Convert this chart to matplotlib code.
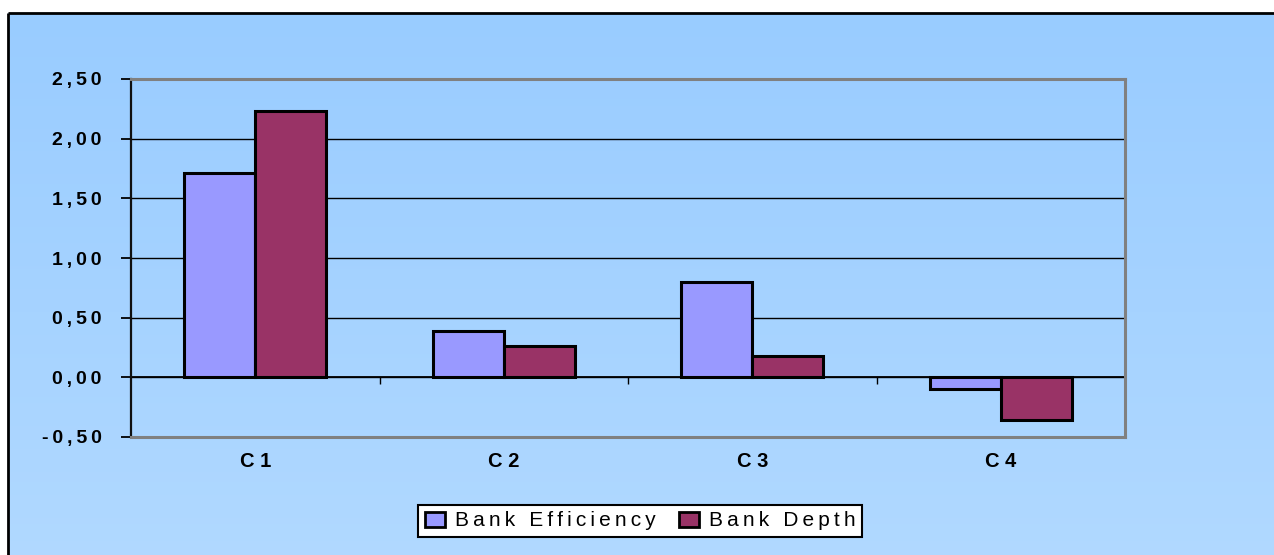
import numpy as np
import matplotlib
matplotlib.use("Agg")
import matplotlib.pyplot as plt
from matplotlib.colors import LinearSegmentedColormap

categories = ["C 1", "C 2", "C 3", "C 4"]
bank_efficiency = [1.71, 0.385, 0.80, -0.10]
bank_depth = [2.23, 0.26, 0.18, -0.36]
series_names = ["Bank Efficiency", "Bank Depth"]
yticks = [-0.5, 0.0, 0.5, 1.0, 1.5, 2.0, 2.5]

TS = "\u2009"  # thin space for letter spacing


def spaced(s):
    return TS.join(list(s))


def fmt(v):
    return f"{v:.2f}".replace(".", ",")


plt.rcParams["font.family"] = ["Liberation Sans", "DejaVu Sans"]

W, H = 1274, 555
fig = plt.figure(figsize=(W / 100, H / 100), dpi=100)
fig.patch.set_facecolor("white")

# background gradient (figure)
bg = fig.add_axes([0, 0, 1, 1], zorder=-10)
bg.set_axis_off()
cmap = LinearSegmentedColormap.from_list("g", ["#99CCFF", "#B3DAFF"])
grad = np.linspace(0, 1, 256).reshape(-1, 1)
top_frac = 1 - 13 / H
bg.imshow(grad, aspect="auto", cmap=cmap, extent=[8 / W, 1.2, -0.1, top_frac],
          origin="upper")
bg.set_xlim(0, 1)
bg.set_ylim(0, 1)
# frame lines
bg.plot([8 / W, 1], [top_frac, top_frac], color="black", lw=2, solid_capstyle="butt")
bg.plot([8 / W, 8 / W], [0, top_frac], color="black", lw=2, solid_capstyle="butt")

left, right = 131 / W, 1125 / W
bottom, top = 1 - 437 / H, 1 - 79 / H
ax = fig.add_axes([left, bottom, right - left, top - bottom])
ax.patch.set_alpha(0)

x = np.arange(len(categories))
bw = 0.285
ax.bar(x - bw / 2, bank_efficiency, bw, color="#9999FF", edgecolor="black",
       linewidth=2.2, label=spaced(series_names[0]), zorder=3)
ax.bar(x + bw / 2, bank_depth, bw, color="#993366", edgecolor="black",
       linewidth=2.2, label=spaced(series_names[1]), zorder=3)

ax.set_xlim(-0.5, len(categories) - 0.5)
ax.set_ylim(yticks[0], yticks[-1])

# gridlines
for v in yticks[1:-1]:
    ax.axhline(v, color="black", lw=1.0, zorder=1)
ax.axhline(0, color="black", lw=1.3, zorder=2)
# tick marks on zero line at category boundaries
bounds = np.arange(len(categories) + 1) - 0.5
ax.vlines(bounds[1:], 0, -0.055, color="black", lw=1.0, zorder=2)

ax.set_yticks(yticks)
ax.set_yticklabels([spaced(fmt(v)) for v in yticks], fontsize=14, fontweight="bold")
ax.tick_params(axis="y", direction="out", length=7, width=1.3, pad=14, colors="black")

ax.set_xticks(x)
ax.set_xticklabels(categories, fontsize=14.5, fontweight="bold")
ax.tick_params(axis="x", length=0, pad=11)

for s in ["top", "right", "bottom"]:
    ax.spines[s].set_color("#808080")
    ax.spines[s].set_linewidth(2.2)
ax.spines["left"].set_color("#101010")
ax.spines["left"].set_linewidth(1.6)

leg = fig.legend(loc="center", bbox_to_anchor=(640 / W, 1 - 521 / H), ncol=2,
                 fontsize=15, frameon=True, fancybox=False, edgecolor="black",
                 handlelength=1.0, handleheight=0.7, handletextpad=0.45,
                 columnspacing=1.1, borderpad=0.3, borderaxespad=0)
leg.get_frame().set_linewidth(1.5)
leg.get_frame().set_facecolor("white")
leg.get_frame().set_alpha(1)
for p in leg.get_patches():
    p.set_linewidth(2)

fig.savefig("out.png", dpi=100)
